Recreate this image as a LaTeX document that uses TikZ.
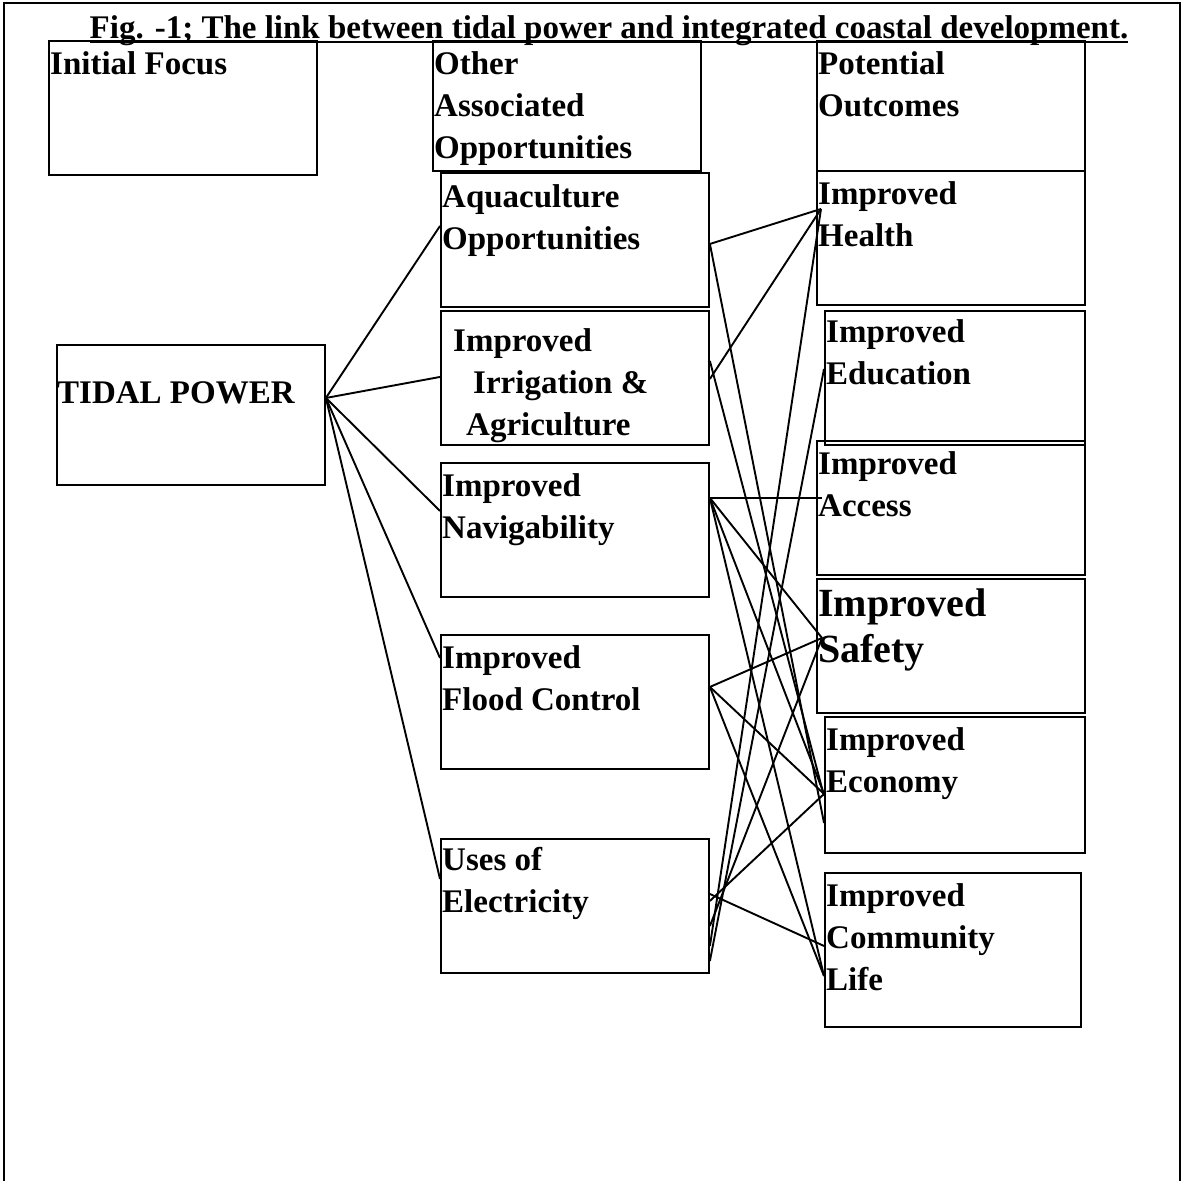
\documentclass[tikz,border=0pt]{standalone}
\usepackage{fontspec}
\setmainfont{Liberation Serif}

\begin{document}
\begin{tikzpicture}[x=1pt, y=-1pt,
  box/.style={draw, line width=1.9pt, anchor=north west, inner sep=0pt},
  lbl/.style={anchor=north west, inner sep=0pt, align=left, font=\bfseries\fontsize{33}{42}\selectfont},
  link/.style={line width=1.9pt}]
  \useasboundingbox (0,0) rectangle (1183,1181);

  % Frame
  \draw[line width=2.2pt] (4,1181) -- (4,3) -- (1180,3) -- (1180,1181);

  % Title
  \node[anchor=base, inner sep=0pt, font=\bfseries\fontsize{33}{40}\selectfont] (title) at (609,38)
    {Fig. -1; The link between tidal power and integrated coastal development.};
  \draw[line width=1.8pt] ([yshift=-4pt]title.base west) -- ([yshift=-4pt]title.base east);

  % Boxes
  \foreach \name/\x/\y/\w/\h in {focus/48/40/268/134, other/432/40/268/130, outcomes/816/40/268/130,
      tidal/56/344/268/140,
      aqua/440/172/268/134, irrig/440/310/268/134, navig/440/462/268/134,
      flood/440/634/268/134, elec/440/838/268/134,
      health/816/170/268/134, educ/824/310/260/134, access/816/440/268/134,
      safety/816/578/268/134, econ/824/716/260/136, commun/824/872/256/154} {
    \node[box, minimum width=\w pt, minimum height=\h pt] (\name) at (\x,\y) {};
  }

  % Headings
  \node[lbl] (focus-t) at (50,51.5) {Initial Focus};
  \node[lbl] (other-t) at (434,51.5) {Other\\Associated\\Opportunities};
  \node[lbl] (outcomes-t) at (818,51.5) {Potential\\Outcomes};
  \node[lbl] (tidal-t) at (57,381.5) {TIDAL POWER};

  % Opportunities
  \node[lbl] (aqua-t) at (442,184.5) {Aquaculture\\Opportunities};
  \node[lbl] (irrig-t) at (453,328.5) {Improved\\\hspace*{20pt}Irrigation \&\\\hspace*{13pt}Agriculture};
  \node[lbl] (navig-t) at (442,473.5) {Improved\\Navigability};
  \node[lbl] (flood-t) at (442,645.5) {Improved\\Flood Control};
  \node[lbl] (elec-t) at (442,847.5) {Uses of\\Electricity};

  % Outcomes
  \node[lbl] (health-t) at (818,181.5) {Improved\\Health};
  \node[lbl] (educ-t) at (826,319.5) {Improved\\Education};
  \node[lbl] (access-t) at (818,451.5) {Improved\\Access};
  \node[lbl, font=\bfseries\fontsize{40}{46}\selectfont] (safety-t) at (818,589) {Improved\\Safety};
  \node[lbl] (econ-t) at (826,727.5) {Improved\\Economy};
  \node[lbl] (commun-t) at (826,883.5) {Improved\\Community\\Life};

  % Links from tidal power
  \foreach \b/\by in {aqua/14, irrig/1, navig/19, flood/44, elec/27}
    \draw[link] ([yshift=17pt]tidal.east) -- ([yshift=\by pt]\b.west);

  % Links to outcomes
  \foreach \a/\ay/\b/\bx/\by in {aqua/-4/health/5/29, aqua/-4/econ/0/-38, irrig/-1/health/5/29, irrig/17/econ/0/-11,
      navig/32/access/6/10, navig/32/safety/6/8, navig/32/econ/0/-9, navig/32/commun/0/-26,
      flood/15/safety/6/8, flood/15/econ/0/-9, flood/15/commun/0/-26,
      elec/12/commun/0/4, elec/5/econ/0/-9, elec/-20/safety/6/8, elec/-40/health/5/29, elec/-55/educ/0/9}
    \draw[link] ([yshift=\ay pt]\a.east) -- ([xshift=\bx pt, yshift=\by pt]\b.west);
\end{tikzpicture}
\end{document}
